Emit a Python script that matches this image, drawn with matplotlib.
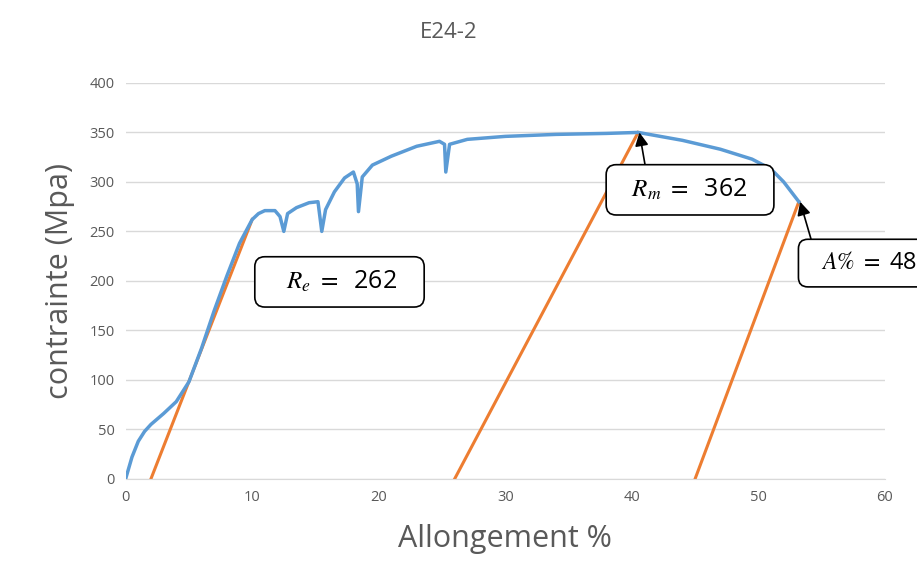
import matplotlib
matplotlib.use('Agg')
import matplotlib.pyplot as plt

plt.rcParams['font.family'] = ['Open Sans', 'DejaVu Sans']
plt.rcParams['mathtext.fontset'] = 'stix'

# traction curve (allongement %, contrainte MPa)
strain = [0, 0.5, 1, 1.5, 2, 3, 4, 5, 6, 7, 8, 9, 10, 10.5, 11, 11.8, 12.2, 12.5,
          12.8, 13.5, 14.5, 15.2, 15.5, 15.8, 16.5, 17.3, 18.0, 18.3, 18.4, 18.7,
          19.5, 21, 23, 24.8, 25.2, 25.3, 25.6, 27, 30, 34, 38, 40.5, 44, 47,
          49.5, 51, 52, 53.2]
stress = [0, 22, 38, 48, 55, 66, 78, 98, 132, 170, 205, 238, 262, 268, 271, 271, 265, 250,
          268, 274, 279, 280, 250, 272, 290, 304, 310, 298, 270, 305,
          317, 326, 336, 341, 338, 310, 338, 343, 346, 348, 349, 350, 342, 333,
          323, 313, 300, 280]

# offset (unloading) lines
offset_x = [[2, 10], [26, 40.5], [45, 53.2]]
offset_y = [[0, 262], [0, 350], [0, 280]]

xticks = [0, 10, 20, 30, 40, 50, 60]
yticks = [0, 50, 100, 150, 200, 250, 300, 350, 400]

fig = plt.figure(figsize=(9.17, 5.84), dpi=100)
ax = fig.add_axes([0.137, 0.180, 0.828, 0.678])

blue = '#5b9bd5'
orange = '#ed7d31'
grey = '#595959'

for xs, ys in zip(offset_x, offset_y):
    ax.plot(xs, ys, color=orange, lw=2.2, zorder=2)
ax.plot(strain, stress, color=blue, lw=2.5, zorder=3, solid_joinstyle='round')

ax.set_xlim(0, 60)
ax.set_ylim(0, 400)
ax.set_xticks(xticks)
ax.set_yticks(yticks)
ax.tick_params(length=0, colors=grey, labelsize=10.5, pad=8)
ax.grid(True, axis='y', color='#d9d9d9', lw=1)
ax.set_axisbelow(True)
for s in ['top', 'right', 'left']:
    ax.spines[s].set_visible(False)
ax.spines['bottom'].set_color('#d9d9d9')

ax.set_xlabel('Allongement %', fontsize=22, color=grey, labelpad=14)
ax.set_ylabel('contrainte (Mpa)', fontsize=22, color=grey, labelpad=10)
fig.text(0.489, 0.945, 'E24-2', fontsize=16, color=grey, ha='center', va='center')

box = dict(boxstyle='round,pad=0.5,rounding_size=0.4', fc='white', ec='black', lw=1.2)
arrow = dict(arrowstyle='-|>', color='black', lw=1.2, mutation_scale=20,
             shrinkA=0, shrinkB=0)

ax.text(16.9, 199, r'   $R_e\ =\ $ 262   ', fontsize=18, ha='center', va='center',
        bbox=box, zorder=5)

ax.annotate(r'  $R_m\ =\ $ 362   ', xy=(40.6, 350), xytext=(44.6, 292),
            fontsize=18, ha='center', va='center', bbox=box, zorder=5,
            arrowprops=dict(arrow, relpos=(0.2, 1.0)))
ax.annotate(r'  $A\%\ =$ 48', xy=(53.3, 280), xytext=(54.1, 218),
            fontsize=17, ha='left', va='center', bbox=box, zorder=5,
            annotation_clip=False,
            arrowprops=dict(arrow, relpos=(0.04, 1.0)))

fig.savefig('out.png', dpi=100)
